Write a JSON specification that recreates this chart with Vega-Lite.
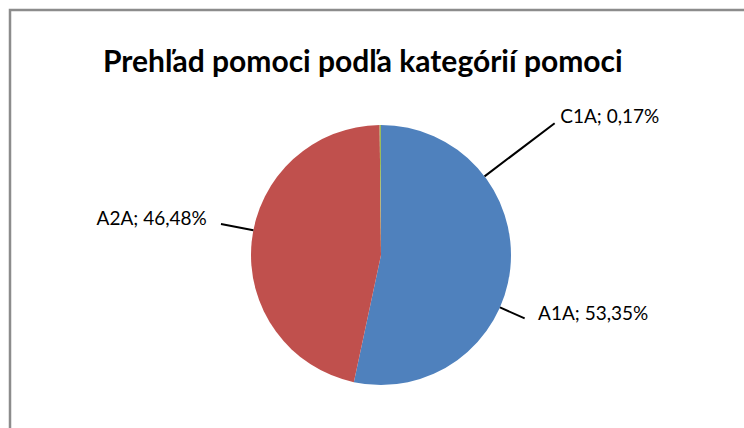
{
  "$schema": "https://vega.github.io/schema/vega-lite/v6.json",
  "autosize": {"type": "none"},
  "width": 734,
  "height": 418,
  "padding": {"left": 10, "top": 10, "right": 0, "bottom": 0},
  "background": "white",
  "view": {"stroke": "#8c8c8c", "strokeWidth": 2.5, "strokeDash": [734, 1152, 420, 3000]},
  "title": {
    "text": "Prehľad pomoci podľa kategórií pomoci",
    "anchor": "start",
    "frame": "group",
    "orient": "top",
    "offset": 0,
    "dx": 93,
    "dy": 92,
    "baseline": "alphabetic",
    "font": "Lato",
    "fontSize": 30,
    "fontWeight": "bold",
    "color": "#000000"
  },
  "data": {
    "values": [
      {"kategoria": "A1A", "podiel": 53.35, "label": "A1A; 53,35%"},
      {"kategoria": "A2A", "podiel": 46.48, "label": "A2A; 46,48%"},
      {"kategoria": "C1A", "podiel": 0.17, "label": "C1A; 0,17%"}
    ]
  },
  "transform": [
    {"window": [{"op": "sum", "field": "podiel", "as": "kum"}], "sort": [{"field": "kategoria"}], "frame": [null, 0]},
    {"calculate": "datum.kum - datum.podiel / 2", "as": "stred"}
  ],
  "layer": [
    {
      "mark": {"type": "arc", "radius": 130, "xOffset": 4, "yOffset": 36},
      "encoding": {
        "theta": {"field": "podiel", "type": "quantitative", "stack": true, "scale": {"domain": [0, 100]}},
        "order": {"field": "kategoria", "type": "ordinal"},
        "color": {
          "field": "kategoria",
          "type": "nominal",
          "scale": {"domain": ["A1A", "A2A", "C1A"], "range": ["#4F81BD", "#C0504D", "#9BBB59"]},
          "legend": null
        }
      }
    },
    {
      "transform": [{"filter": "datum.kategoria === 'A1A'"}],
      "mark": {"type": "arc", "radius": 157, "radius2": 130, "thetaOffset": 0.31, "theta2Offset": 0.31, "xOffset": 4, "yOffset": 36, "filled": false, "stroke": "#000000", "strokeWidth": 2},
      "encoding": {
        "theta": {"field": "stred", "type": "quantitative", "stack": null},
        "theta2": {"field": "stred"}
      }
    },
    {
      "transform": [{"filter": "datum.kategoria === 'A2A'"}],
      "mark": {"type": "arc", "radius": 163, "radius2": 130, "thetaOffset": 0.092, "theta2Offset": 0.092, "xOffset": 4, "yOffset": 36, "filled": false, "stroke": "#000000", "strokeWidth": 2},
      "encoding": {
        "theta": {"field": "stred", "type": "quantitative", "stack": null},
        "theta2": {"field": "stred"}
      }
    },
    {
      "transform": [{"filter": "datum.kategoria === 'C1A'"}],
      "mark": {"type": "arc", "radius": 218, "radius2": 130, "thetaOffset": 0.927, "theta2Offset": 0.927, "xOffset": 4, "yOffset": 36, "filled": false, "stroke": "#000000", "strokeWidth": 2},
      "encoding": {
        "theta": {"field": "stred", "type": "quantitative", "stack": null},
        "theta2": {"field": "stred"}
      }
    },
    {
      "transform": [{"filter": "datum.kategoria === 'A1A'"}],
      "mark": {"type": "text", "radius": 160, "dx": 2, "dy": 84, "align": "left", "baseline": "alphabetic", "font": "Lato", "fontSize": 19, "color": "#000000"},
      "encoding": {
        "theta": {"field": "stred", "type": "quantitative", "stack": null},
        "text": {"field": "label"}
      }
    },
    {
      "transform": [{"filter": "datum.kategoria === 'A2A'"}],
      "mark": {"type": "text", "radius": 160, "dx": -11, "dy": 22, "align": "right", "baseline": "alphabetic", "font": "Lato", "fontSize": 19, "color": "#000000"},
      "encoding": {
        "theta": {"field": "stred", "type": "quantitative", "stack": null},
        "text": {"field": "label"}
      }
    },
    {
      "transform": [{"filter": "datum.kategoria === 'C1A'"}],
      "mark": {"type": "text", "radius": 140, "dx": 184, "dy": 44, "align": "left", "baseline": "alphabetic", "font": "Lato", "fontSize": 19, "color": "#000000"},
      "encoding": {
        "theta": {"field": "stred", "type": "quantitative", "stack": null},
        "text": {"field": "label"}
      }
    }
  ]
}
